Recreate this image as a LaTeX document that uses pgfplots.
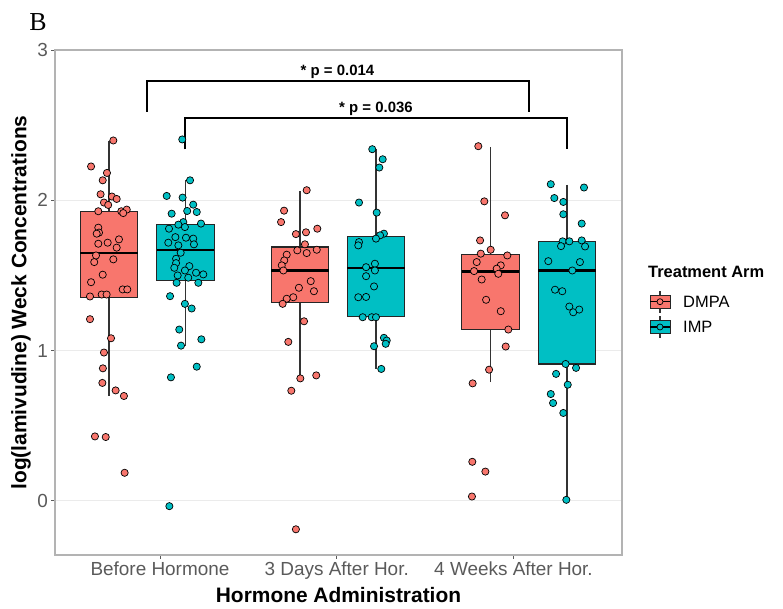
\documentclass[border=0pt]{standalone}
\usepackage{fontspec}
\setmainfont{Liberation Sans}
\newfontfamily\serifB{Liberation Serif}
\usepackage{pgfplots}
\pgfplotsset{compat=1.18}
\usepgfplotslibrary{statistics}

\definecolor{dmpa}{HTML}{F8766D}
\definecolor{imp}{HTML}{00BFC4}
\definecolor{gridgrey}{HTML}{EBEBEB}
\definecolor{bordergrey}{HTML}{B3B3B3}
\definecolor{ticktext}{HTML}{5A5A5A}

\pgfplotsset{
  bx/.style 2 args={draw=black!85, fill=#1, line width=1.1bp,
    boxplot/draw direction=y,
    boxplot/every whisker/.style={line width=1.6bp, draw=black!80},
    boxplot/every median/.style={line width=2.4bp, draw=black},
    boxplot prepared={#2, box extend=0.325, whisker extend=0}},
  pts/.style={only marks, mark=*, mark size=3.6bp,
    mark options={fill=#1, draw=black, line width=0.7bp}},
}

\begin{document}
\begin{tikzpicture}
\useasboundingbox (0,0) rectangle (783bp,609bp);
\begin{axis}[
  at={(55bp,54bp)}, anchor=south west,
  scale only axis, width=567bp, height=505bp,
  xmin=0.406, xmax=3.614, ymin=-0.36, ymax=3,
  xtick={1,2,3},
  xticklabels={Before Hormone, 3 Days After Hor., 4 Weeks After Hor.},
  ytick={0,1,2,3},
  ymajorgrids, major grid style={gridgrey, line width=1bp},
  axis line style={bordergrey, line width=1.2bp},
  tick style={ticktext, line width=0.8bp},
  major tick length=3.5bp,
  tick align=outside, xtick pos=bottom, ytick pos=left,
  ticklabel style={font=\fontsize{19}{19}\selectfont, text=ticktext},
  /pgf/number format/assume math mode=true,
  xlabel={Hormone Administration},
  ylabel={log(lamivudine) Weck Concentrations},
  label style={font=\fontsize{21}{21}\selectfont\bfseries},
  xlabel style={at={(axis description cs:0.5,0)}, anchor=base, yshift=-47bp},
  ylabel style={at={(axis description cs:-0.06,0.5)}, anchor=center},
  clip=false,
]
% boxes
\addplot[bx={dmpa}{draw position=0.711, lower whisker=0.70, lower quartile=1.356, median=1.651, upper quartile=1.927, upper whisker=2.395}] coordinates {};
\addplot[bx={imp}{draw position=1.144, lower whisker=1.033, lower quartile=1.467, median=1.671, upper quartile=1.838, upper whisker=2.133}] coordinates {};
\addplot[bx={dmpa}{draw position=1.792, lower whisker=0.815, lower quartile=1.322, median=1.533, upper quartile=1.689, upper whisker=2.062}] coordinates {};
\addplot[bx={imp}{draw position=2.223, lower whisker=0.878, lower quartile=1.227, median=1.549, upper quartile=1.760, upper whisker=2.340}] coordinates {};
\addplot[bx={dmpa}{draw position=2.870, lower whisker=0.789, lower quartile=1.140, median=1.527, upper quartile=1.638, upper whisker=2.355}] coordinates {};
\addplot[bx={imp}{draw position=3.304, lower whisker=0.007, lower quartile=0.911, median=1.533, upper quartile=1.727, upper whisker=2.104}] coordinates {};

% jittered observations
\addplot[pts=dmpa] coordinates {
(0.736,2.398) (0.610,2.225) (0.700,2.182) (0.676,2.133) (0.664,2.040) (0.728,2.025)
(0.755,2.009) (0.683,1.985) (0.707,1.969) (0.651,1.927) (0.781,1.927) (0.812,1.938)
(0.792,1.915) (0.651,1.818) (0.655,1.785) (0.642,1.778) (0.768,1.740) (0.704,1.718)
(0.651,1.711) (0.755,1.685) (0.736,1.607) (0.628,1.589) (0.638,1.633) (0.676,1.505)
(0.610,1.455) (0.789,1.407) (0.815,1.407) (0.604,1.360) (0.670,1.373) (0.698,1.373)
(0.604,1.209) (0.723,1.082) (0.683,0.987) (0.677,0.882) (0.674,0.785) (0.749,0.735)
(0.796,0.698) (0.632,0.429) (0.693,0.425) (0.800,0.187)
};
\addplot[pts=imp] coordinates {
(1.126,2.405) (1.170,2.133) (1.038,2.029) (1.128,2.018) (1.188,1.971) (1.154,1.929)
(1.208,1.922) (1.066,1.911) (1.132,1.855) (1.104,1.838) (1.141,1.822) (1.232,1.845)
(1.051,1.811) (1.087,1.755) (1.147,1.751) (1.188,1.745) (1.047,1.718) (1.104,1.700)
(1.192,1.707) (1.117,1.651) (1.091,1.611) (1.091,1.582) (1.166,1.562) (1.081,1.551)
(1.141,1.533) (1.204,1.518) (1.245,1.507) (1.100,1.500) (1.160,1.485) (1.094,1.451)
(1.217,1.451) (1.057,1.362) (1.141,1.311) (1.179,1.280) (1.109,1.140) (1.234,1.075)
(1.119,1.033) (1.208,0.893) (1.062,0.822) (1.053,-0.035)
};
\addplot[pts=dmpa] coordinates {
(1.830,2.067) (1.702,1.931) (1.685,1.855) (1.769,1.775) (1.826,1.787) (1.890,1.811)
(1.820,1.707) (1.777,1.667) (1.887,1.671) (1.830,1.649) (1.717,1.638) (1.703,1.600)
(1.689,1.567) (1.698,1.533) (1.853,1.462) (1.871,1.395) (1.786,1.418) (1.754,1.355)
(1.717,1.345) (1.694,1.311) (1.815,1.195) (1.726,1.058) (1.884,0.835) (1.794,0.815)
(1.743,0.733) (1.769,-0.189)
};
\addplot[pts=imp] coordinates {
(2.201,2.340) (2.260,2.273) (2.241,2.218) (2.126,1.985) (2.226,1.918) (2.267,1.778)
(2.245,1.767) (2.222,1.745) (2.126,1.722) (2.122,1.700) (2.216,1.578) (2.166,1.555)
(2.216,1.533) (2.166,1.495) (2.211,1.427) (2.122,1.355) (2.166,1.357) (2.147,1.222)
(2.198,1.222) (2.222,1.222) (2.267,1.085) (2.283,1.067) (2.277,1.045) (2.211,1.029)
(2.252,0.878)
};
\addplot[pts=dmpa] coordinates {
(2.801,2.360) (2.835,1.993) (2.952,1.900) (2.811,1.733) (2.871,1.671) (2.815,1.645)
(2.965,1.633) (2.792,1.589) (2.928,1.567) (2.905,1.545) (2.777,1.529) (2.914,1.511)
(2.820,1.473) (2.845,1.338) (2.928,1.262) (2.971,1.140) (2.956,1.027) (2.862,0.873)
(2.769,0.782) (2.767,0.260) (2.841,0.195) (2.765,0.029)
};
\addplot[pts=imp] coordinates {
(3.211,2.107) (3.399,2.085) (3.231,2.015) (3.282,1.989) (3.282,1.907) (3.386,1.845)
(3.278,1.727) (3.316,1.727) (3.386,1.733) (3.269,1.695) (3.405,1.693) (3.197,1.595)
(3.376,1.589) (3.333,1.533) (3.235,1.405) (3.276,1.395) (3.316,1.293) (3.338,1.255)
(3.372,1.273) (3.295,0.911) (3.354,0.885) (3.241,0.845) (3.307,0.773) (3.211,0.711)
(3.224,0.651) (3.282,0.585) (3.299,0.007)
};

% significance brackets
\addplot[black, line width=1.8bp, no marks] coordinates {(0.928,2.589) (0.928,2.795) (3.088,2.795) (3.088,2.589)};
\addplot[black, line width=1.8bp, no marks] coordinates {(1.141,2.338) (1.141,2.545) (3.301,2.545) (3.301,2.338)};
\node[font=\fontsize{15}{15}\selectfont\bfseries, anchor=base] at (axis cs:2.004,2.833) {* p = 0.014};
\node[font=\fontsize{15}{15}\selectfont\bfseries, anchor=base] at (axis cs:2.222,2.582) {* p = 0.036};
\end{axis}

% panel tag
\node[font=\fontsize{26}{26}\selectfont\serifB] at (38bp,587bp) {B};

% legend
\node[font=\fontsize{16.5}{16.5}\selectfont\bfseries, anchor=west, inner sep=0pt] at (648bp,337bp) {Treatment Arm};
\foreach \c/\lab/\yy in {dmpa/DMPA/307.3, imp/IMP/282} {
  \draw[black!80, line width=1.1bp] (660bp,\yy bp-11bp) -- (660bp,\yy bp+11bp);
  \draw[black!85, fill=\c, line width=1bp] (650bp,\yy bp-6.5bp) rectangle (670bp,\yy bp+6.5bp);
  \draw[black, line width=1.6bp] (650bp,\yy bp) -- (670bp,\yy bp);
  \draw[black, fill=\c, line width=0.7bp] (660bp,\yy bp) circle (3bp);
  \node[font=\fontsize{16.5}{16.5}\selectfont, anchor=west, inner sep=0pt] at (683bp,\yy bp) {\lab};
}
\end{tikzpicture}
\end{document}
